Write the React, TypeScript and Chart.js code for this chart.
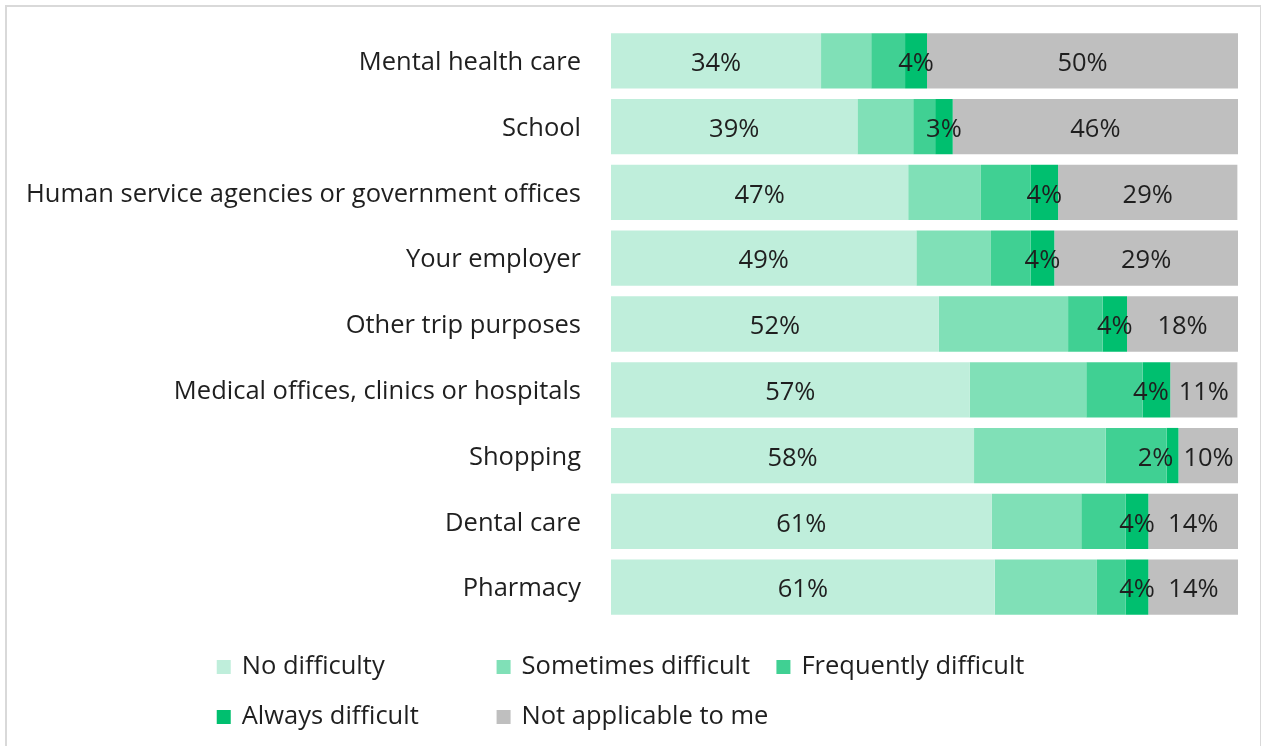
import { useEffect, useRef } from "react";
import { Chart, registerables } from "chart.js";

Chart.register(...registerables);

const categories = [
  "Mental health care",
  "School",
  "Human service agencies or government offices",
  "Your employer",
  "Other trip purposes",
  "Medical offices, clinics or hospitals",
  "Shopping",
  "Dental care",
  "Pharmacy",
];

const seriesNames = [
  "No difficulty",
  "Sometimes difficult",
  "Frequently difficult",
  "Always difficult",
  "Not applicable to me",
];

const noDifficulty = [33.5, 39.3, 47.4, 48.7, 52.3, 57.2, 57.9, 60.7, 61.2];
const sometimesDifficult = [8.0, 8.9, 11.6, 11.9, 20.6, 18.6, 21.0, 14.3, 16.3];
const frequentlyDifficult = [5.4, 3.5, 7.9, 6.3, 5.5, 9.0, 9.7, 7.1, 4.6];
const alwaysDifficult = [3.5, 2.8, 4.4, 3.8, 3.9, 4.4, 1.9, 3.6, 3.6];
const notApplicable = [49.6, 45.5, 28.6, 29.3, 17.7, 10.7, 9.6, 14.3, 14.4];

// only these series get a value label inside the bar
const labelledSeries = [0, 3, 4];

const colors = ["#BFEEDB", "#80E0B7", "#40D093", "#00BF6F", "#BFBFBF"];
const TEXT = "#1f1f1f";
const FONT_FAMILY = "'Open Sans', 'Noto Sans', sans-serif";
const FONT_SIZE = 25.5;

const frame = {
  id: "frame",
  beforeDraw(chart: any) {
    const { ctx, width, height } = chart;
    ctx.save();
    ctx.strokeStyle = "#D9D9D9";
    ctx.lineWidth = 2;
    ctx.strokeRect(6, 6, width - 6, height + 10);
    ctx.restore();
  },
};

const barLabels = {
  id: "barLabels",
  afterDatasetsDraw(chart: any) {
    const { ctx } = chart;
    ctx.save();
    ctx.font = `${FONT_SIZE}px ${FONT_FAMILY}`;
    ctx.fillStyle = TEXT;
    ctx.textAlign = "center";
    ctx.textBaseline = "middle";
    const rows = chart.data.labels.length;
    for (let i = 0; i < rows; i++) {
      // work right to left so a label can step aside for its right neighbour
      let limit = Infinity;
      [...labelledSeries].reverse().forEach((di) => {
        const bar: any = chart.getDatasetMeta(di).data[i];
        const v = chart.data.datasets[di].data[i] as number;
        const text = `${Math.round(v)}%`;
        const w = ctx.measureText(text).width;
        let x = (bar.x + bar.base) / 2;
        if (x + w / 2 > limit - 6) x = limit - 10 - w / 2;
        ctx.fillText(text, x, bar.y + 3);
        limit = x - w / 2;
      });
    }
    ctx.restore();
  },
};

// Excel-style legend: fixed width columns, rows left aligned
const gridLegend = {
  id: "gridLegend",
  afterDraw(chart: any) {
    const { ctx, width, chartArea } = chart;
    const sets = chart.data.datasets;
    const box = 14;
    const gap = 11;
    const cols = 3;
    ctx.save();
    ctx.font = `${FONT_SIZE}px ${FONT_FAMILY}`;
    const itemW = Math.max(
      ...sets.map((d: any) => box + gap + ctx.measureText(d.label).width)
    );
    const colW = itemW + 8;
    const startX = (width - (cols * colW - 8)) / 2 + 2;
    sets.forEach((d: any, i: number) => {
      const x = startX + (i % cols) * colW;
      const y = chartArea.bottom + 47 + Math.floor(i / cols) * 50;
      ctx.fillStyle = d.backgroundColor;
      ctx.fillRect(x, y - box / 2, box, box);
      ctx.fillStyle = TEXT;
      ctx.textAlign = "left";
      ctx.textBaseline = "middle";
      ctx.fillText(d.label, x + box + gap, y);
    });
    ctx.restore();
  },
};

const App = () => {
  const canvasRef = useRef<HTMLCanvasElement>(null);
  const chartRef = useRef<Chart | null>(null);

  useEffect(() => {
    if (!canvasRef.current) return;
    if (chartRef.current) chartRef.current.destroy();

    const values = [
      noDifficulty,
      sometimesDifficult,
      frequentlyDifficult,
      alwaysDifficult,
      notApplicable,
    ];

    chartRef.current = new Chart(canvasRef.current, {
      type: "bar",
      data: {
        labels: categories,
        datasets: seriesNames.map((name, i) => ({
          label: name,
          data: values[i],
          backgroundColor: colors[i],
          borderWidth: 0,
          categoryPercentage: 1,
          barPercentage: 0.84,
        })),
      },
      options: {
        indexAxis: "y",
        animation: false,
        responsive: true,
        maintainAspectRatio: false,
        layout: {
          autoPadding: false,
          padding: { top: 28, right: 23, bottom: 126, left: 0 },
        },
        plugins: {
          legend: { display: false },
          tooltip: { enabled: false },
        },
        scales: {
          x: { stacked: true, min: 0, max: 100, display: false },
          y: {
            stacked: true,
            grid: { display: false, drawTicks: false },
            border: { display: false },
            ticks: {
              padding: 30,
              labelOffset: 2,
              color: TEXT,
              font: { family: FONT_FAMILY, size: FONT_SIZE },
            },
            afterFit: (scale: any) => {
              scale.width = 611;
              // labels sit mid-band, so no extra room is needed above/below
              scale.paddingTop = 0;
              scale.paddingBottom = 0;
            },
          },
        },
      },
      plugins: [frame, barLabels, gridLegend],
    });

    return () => {
      chartRef.current?.destroy();
      chartRef.current = null;
    };
  }, []);

  return (
    <div
      style={{
        position: "fixed",
        left: 0,
        top: 0,
        width: 1261,
        height: 746,
        background: "#fff",
      }}
    >
      <canvas ref={canvasRef} />
    </div>
  );
};

export default App;
